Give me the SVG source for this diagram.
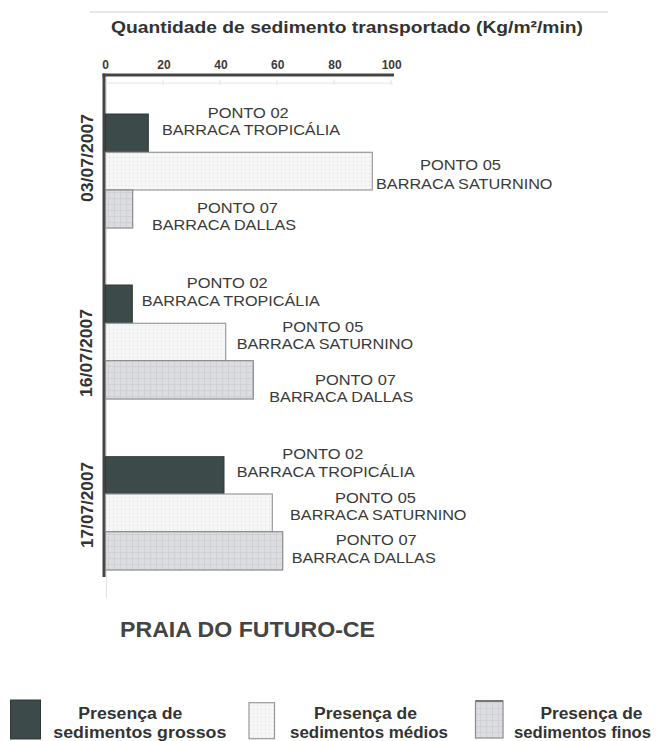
<svg xmlns="http://www.w3.org/2000/svg" width="657" height="741" viewBox="0 0 657 741">
<defs>
<pattern id="dots" width="4" height="4" patternUnits="userSpaceOnUse">
<rect width="4" height="4" fill="#f6f6f6"/>
<rect x="1" y="1" width="1" height="1" fill="#dcdcdc"/>
</pattern>
<pattern id="grid" width="6" height="6" patternUnits="userSpaceOnUse">
<rect width="6" height="6" fill="#dcdde0"/>
<path d="M0 0.5H6M0.5 0V6" stroke="#cfd0d4" stroke-width="1"/>
</pattern>
<style>
.lbl{font-family:"Liberation Sans",Arial,sans-serif;font-size:15.5px;fill:#3a3a3a}
.tick{font-family:"Liberation Sans",Arial,sans-serif;font-size:12px;font-weight:bold;fill:#3a3a3a;text-anchor:middle}
.date{font-family:"Liberation Sans",Arial,sans-serif;font-size:16px;font-weight:bold;fill:#333;text-anchor:middle}
.leg{font-family:"Liberation Sans",Arial,sans-serif;font-size:16px;font-weight:bold;fill:#333}
.g{fill:#3c4a4a;stroke:#2e3838;stroke-width:1}
.m{fill:url(#dots);stroke:#9a9a9a;stroke-width:1.2}
.f{fill:url(#grid);stroke:#8a8a8a;stroke-width:1.2}
</style>
</defs>
<rect width="657" height="741" fill="#ffffff"/>
<line x1="90" y1="12" x2="608" y2="12" stroke="#cfcfcf" stroke-width="1"/>
<text x="111" y="33" font-family="Liberation Sans, Arial, sans-serif" font-size="17" font-weight="bold" fill="#333" textLength="472" lengthAdjust="spacingAndGlyphs">Quantidade de sedimento transportado (Kg/m²/min)</text>

<g id="axis">
<text class="tick" x="105.7" y="69">0</text>
<text class="tick" x="164" y="69">20</text>
<text class="tick" x="221" y="69">40</text>
<text class="tick" x="277.7" y="69">60</text>
<text class="tick" x="335" y="69">80</text>
<text class="tick" x="391.7" y="69">100</text>
<line x1="106" y1="83" x2="393" y2="83" stroke="#e2e2e2" stroke-width="1"/>
<path d="M163 80V85M220 80V85M277 80V85M334 80V85M391 80V85" stroke="#e2e2e2" stroke-width="1"/>
<line x1="106.5" y1="75" x2="106.5" y2="598" stroke="#e2e2e2" stroke-width="1"/>
<line x1="102.5" y1="75" x2="394" y2="75" stroke="#444" stroke-width="3"/>
<line x1="104" y1="73.5" x2="104" y2="577" stroke="#444" stroke-width="3"/>
</g>

<g id="date1">
<text class="date" transform="translate(93,158) rotate(-90)" textLength="88" lengthAdjust="spacingAndGlyphs">03/07/2007</text>
<rect class="g" x="105.5" y="114" width="42.8" height="38.3"/>
<rect class="m" x="105.5" y="152.3" width="266.8" height="37.7"/>
<rect class="f" x="105.5" y="190" width="27.2" height="38"/>
<text class="lbl" x="207.7" y="118.3" textLength="81" lengthAdjust="spacingAndGlyphs">PONTO 02</text>
<text class="lbl" x="162" y="135" textLength="178" lengthAdjust="spacingAndGlyphs">BARRACA TROPICÁLIA</text>
<text class="lbl" x="420" y="170" textLength="81" lengthAdjust="spacingAndGlyphs">PONTO 05</text>
<text class="lbl" x="376" y="189" textLength="176.5" lengthAdjust="spacingAndGlyphs">BARRACA SATURNINO</text>
<text class="lbl" x="197" y="213" textLength="81" lengthAdjust="spacingAndGlyphs">PONTO 07</text>
<text class="lbl" x="152" y="230" textLength="144" lengthAdjust="spacingAndGlyphs">BARRACA DALLAS</text>
</g>

<g id="date2">
<text class="date" transform="translate(92,353) rotate(-90)" textLength="88" lengthAdjust="spacingAndGlyphs">16/07/2007</text>
<rect class="g" x="105.5" y="285" width="26.8" height="38.3"/>
<rect class="m" x="105.5" y="323.3" width="120.2" height="37.4"/>
<rect class="f" x="105.5" y="360.7" width="147.8" height="38.3"/>
<text class="lbl" x="186.7" y="288.3" textLength="81" lengthAdjust="spacingAndGlyphs">PONTO 02</text>
<text class="lbl" x="141.7" y="305.7" textLength="178" lengthAdjust="spacingAndGlyphs">BARRACA TROPICÁLIA</text>
<text class="lbl" x="282.3" y="331.7" textLength="81" lengthAdjust="spacingAndGlyphs">PONTO 05</text>
<text class="lbl" x="236.7" y="349.3" textLength="176.5" lengthAdjust="spacingAndGlyphs">BARRACA SATURNINO</text>
<text class="lbl" x="315" y="385" textLength="81" lengthAdjust="spacingAndGlyphs">PONTO 07</text>
<text class="lbl" x="269.3" y="401.7" textLength="144" lengthAdjust="spacingAndGlyphs">BARRACA DALLAS</text>
</g>

<g id="date3">
<text class="date" transform="translate(93,505) rotate(-90)" textLength="86" lengthAdjust="spacingAndGlyphs">17/07/2007</text>
<rect class="g" x="105.5" y="456.7" width="118.5" height="37.3"/>
<rect class="m" x="105.5" y="494" width="166.8" height="37.7"/>
<rect class="f" x="105.5" y="531.7" width="177.2" height="38.3"/>
<text class="lbl" x="282.3" y="459.3" textLength="81" lengthAdjust="spacingAndGlyphs">PONTO 02</text>
<text class="lbl" x="236.7" y="477.3" textLength="178" lengthAdjust="spacingAndGlyphs">BARRACA TROPICÁLIA</text>
<text class="lbl" x="335" y="502.7" textLength="81" lengthAdjust="spacingAndGlyphs">PONTO 05</text>
<text class="lbl" x="290" y="520" textLength="176.5" lengthAdjust="spacingAndGlyphs">BARRACA SATURNINO</text>
<text class="lbl" x="335.7" y="545" textLength="81" lengthAdjust="spacingAndGlyphs">PONTO 07</text>
<text class="lbl" x="291.7" y="562.7" textLength="144" lengthAdjust="spacingAndGlyphs">BARRACA DALLAS</text>
</g>

<text x="120" y="637" font-family="Liberation Sans, Arial, sans-serif" font-size="22" font-weight="bold" fill="#444" textLength="255" lengthAdjust="spacingAndGlyphs">PRAIA DO FUTURO-CE</text>

<g id="legend">
<rect class="g" x="10.5" y="700" width="30" height="39"/>
<text class="leg" x="78.3" y="719" textLength="104" lengthAdjust="spacingAndGlyphs">Presença de</text>
<text class="leg" x="53.3" y="737.5" textLength="173" lengthAdjust="spacingAndGlyphs">sedimentos grossos</text>
<rect class="m" x="249" y="702.7" width="25.5" height="36" stroke="#cccccc"/>
<text class="leg" x="314" y="719" textLength="103" lengthAdjust="spacingAndGlyphs">Presença de</text>
<text class="leg" x="290" y="737.5" textLength="158" lengthAdjust="spacingAndGlyphs">sedimentos médios</text>
<rect class="f" x="475.5" y="701" width="27.5" height="37" stroke="#bbbbbb"/>
<line x1="475.5" y1="701" x2="503" y2="701" stroke="#777" stroke-width="2"/>
<text class="leg" x="540.4" y="719" textLength="102" lengthAdjust="spacingAndGlyphs">Presença de</text>
<text class="leg" x="514" y="737.5" textLength="137" lengthAdjust="spacingAndGlyphs">sedimentos finos</text>
</g>
</svg>
